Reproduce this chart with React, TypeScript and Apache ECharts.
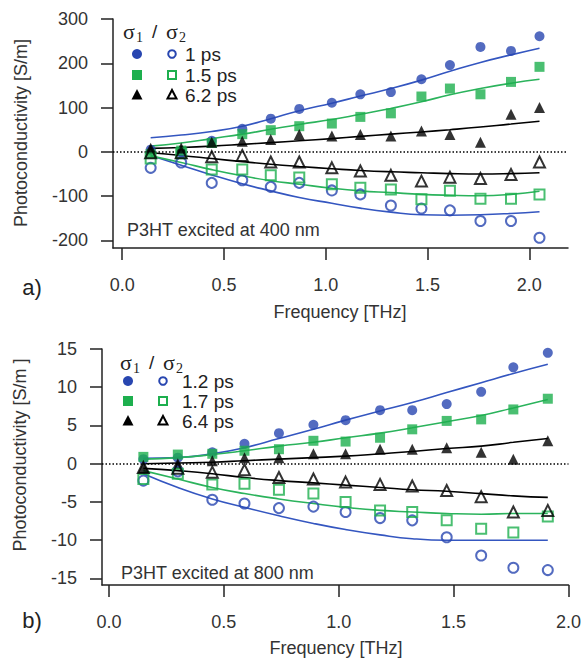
import React, { useEffect, useRef } from "react";
import * as echarts from "echarts";

// ---------- Panel a) 400 nm ----------
const freqA = [0.14, 0.29, 0.44, 0.59, 0.73, 0.87, 1.03, 1.17, 1.32, 1.47, 1.61, 1.76, 1.91, 2.05];
const blueFillA = [5, -2, 25, 52, 75, 97, 111, 130, 135, 164, 196, 237, 228, 261];
const greenFillA = [-5, 3, 20, 40, 49, 58, 64, 79, 87, 125, 143, 130, 158, 192];
const blackFillA = [8, 9, 22, 24, 28, 39, 36, 39, 36, 47, 39, 22, 85, 100];
const blueOpenA = [-36, -24, -70, -64, -79, -70, -87, -96, -121, -128, -132, -156, -156, -194];
const greenOpenA = [-15, -3, -40, -40, -53, -58, -73, -81, -85, -107, -88, -106, -106, -96];
const blackOpenA = [-2, -2, -11, -8, -23, -23, -36, -43, -53, -66, -57, -60, -51, -23];
const blueFitUpA = [32, 38, 46, 58, 75, 93, 110, 126, 143, 162, 182, 202, 219, 234];
const greenFitUpA = [13, 20, 30, 40, 51, 62, 73, 85, 98, 113, 129, 143, 155, 164];
const blackFitUpA = [8, 10, 13, 17, 21, 25, 30, 35, 40, 45, 50, 56, 63, 69];
const blueFitDnA = [-8, -30, -52, -72, -88, -103, -116, -127, -136, -142, -143, -142, -139, -135];
const greenFitDnA = [-9, -24, -40, -54, -65, -73, -82, -88, -92, -96, -98, -99, -96, -89];
const blackFitDnA = [-2, -8, -15, -22, -28, -33, -38, -42, -45, -47, -49, -50, -49, -47];
const yTicksA = [-200, -100, 0, 100, 200, 300];
const xTicksA = [0, 0.5, 1.0, 1.5, 2.0];
const legendA = ["1 ps", "1.5 ps", "6.2 ps"];

// ---------- Panel b) 800 nm ----------
const freqB = [0.15, 0.30, 0.45, 0.59, 0.74, 0.89, 1.03, 1.18, 1.32, 1.47, 1.62, 1.76, 1.91];
const blueFillB = [0.6, 0.8, 1.5, 2.6, 4.0, 5.1, 5.7, 7.0, 7.0, 7.8, 9.4, 12.6, 14.5];
const greenFillB = [0.9, 1.2, 1.3, 1.7, 1.9, 3.0, 2.9, 3.4, 4.5, 5.6, 5.8, 7.1, 8.5];
const blackFillB = [-0.5, 0.0, 0.4, 0.8, 0.8, 1.3, 1.3, 1.9, 1.9, 2.1, 1.5, 0.6, 3.0];
const blueOpenB = [-2.2, -1.0, -4.7, -5.2, -5.8, -5.6, -6.3, -7.1, -7.4, -9.6, -12.0, -13.6, -13.9];
const greenOpenB = [-2.0, -1.3, -2.7, -2.6, -3.4, -3.9, -5.0, -6.1, -6.3, -7.4, -8.5, -9.0, -6.9];
const blackOpenB = [-0.5, -0.6, -1.1, -0.8, -1.8, -2.0, -2.4, -2.7, -2.9, -3.5, -4.3, -6.3, -6.1];
const blueFitUpB = [0.7, 0.8, 1.3, 2.1, 3.3, 4.5, 5.7, 6.9, 8.0, 9.3, 10.6, 11.8, 13.0];
const greenFitUpB = [0.6, 0.8, 1.2, 1.7, 2.3, 2.8, 3.4, 4.0, 4.7, 5.5, 6.3, 7.3, 8.4];
const blackFitUpB = [0.0, 0.1, 0.2, 0.4, 0.6, 0.8, 1.0, 1.3, 1.6, 2.0, 2.3, 2.8, 3.3];
const blueFitDnB = [-1.3, -3.1, -4.6, -5.7, -6.8, -7.8, -8.6, -9.3, -9.8, -10.0, -10.0, -10.0, -10.0];
const greenFitDnB = [-0.9, -2.0, -3.1, -3.9, -4.6, -5.2, -5.7, -6.1, -6.3, -6.5, -6.6, -6.5, -6.5];
const blackFitDnB = [-0.6, -0.9, -1.3, -1.8, -2.2, -2.5, -2.8, -3.1, -3.4, -3.6, -3.9, -4.2, -4.4];
const yTicksB = [-15, -10, -5, 0, 5, 10, 15];
const xTicksB = [0, 0.5, 1.0, 1.5, 2.0];
const legendB = ["1.2 ps", "1.7 ps", "6.4 ps"];

const BLUE = "#2846b0";
const BLUE_LINE = "#3456c0";
const GREEN = "#1daf4e";
const GREEN_LINE = "#2bb35c";
const BLACK = "#000000";
const AXIS = "#222222";
const SANS = "Liberation Sans, Arial, Helvetica, sans-serif";
const SERIF = "Liberation Serif, Times New Roman, serif";

const zip = (xs: number[], ys: number[]) => xs.map((x, i) => [x, ys[i]]);

function scatter(idx: number, xs: number[], ys: number[], kind: string, color: string, open: boolean) {
  const symbol = kind === "c" ? "circle" : kind === "s" ? "rect" : "triangle";
  const size = kind === "t" ? 11 : 10;
  return {
    type: "scatter",
    xAxisIndex: idx,
    yAxisIndex: idx,
    data: zip(xs, ys),
    symbol,
    symbolSize: size,
    z: 5,
    itemStyle: open
      ? { color: "rgba(255,255,255,0)", borderColor: color, borderWidth: 2 }
      : { color },
  };
}

function fit(idx: number, xs: number[], ys: number[], color: string, zero = false) {
  const s: any = {
    type: "line",
    xAxisIndex: idx,
    yAxisIndex: idx,
    data: zip(xs, ys),
    showSymbol: false,
    smooth: true,
    z: 4,
    lineStyle: { color, width: 1.6 },
  };
  if (zero) {
    s.markLine = {
      silent: true,
      symbol: ["none", "none"],
      label: { show: false },
      lineStyle: { color: BLACK, type: [1.5, 2], width: 1.5 },
      data: [{ yAxis: 0 }],
    };
  }
  return s;
}

function legendGraphics(x1: number, x2: number, tx: number, ys: number[], labels: string[]) {
  const g: any[] = [];
  const colors = [BLUE, GREEN, BLACK];
  ys.forEach((y, i) => {
    const c = colors[i];
    if (i === 0) {
      g.push({ type: "circle", shape: { cx: x1, cy: y, r: 5 }, style: { fill: c } });
      g.push({ type: "circle", shape: { cx: x2, cy: y, r: 3.8 }, style: { fill: "none", stroke: c, lineWidth: 2 } });
    } else if (i === 1) {
      g.push({ type: "rect", shape: { x: x1 - 5, y: y - 5, width: 10, height: 10 }, style: { fill: c } });
      g.push({ type: "rect", shape: { x: x2 - 4, y: y - 4, width: 8, height: 8 }, style: { fill: "none", stroke: c, lineWidth: 2 } });
    } else {
      g.push({ type: "polygon", shape: { points: [[x1, y - 6], [x1 + 5.5, y + 4.5], [x1 - 5.5, y + 4.5]] }, style: { fill: c } });
      g.push({ type: "polygon", shape: { points: [[x2, y - 5], [x2 + 4.5, y + 3.5], [x2 - 4.5, y + 3.5]] }, style: { fill: "none", stroke: c, lineWidth: 2 } });
    }
    g.push({
      type: "text",
      x: tx,
      y,
      style: { text: labels[i], fontSize: 19, fontFamily: SANS, fill: "#222", align: "left", verticalAlign: "middle" },
    });
  });
  return g;
}

function sigmaGraphics(x: number, y: number) {
  const big = { fontSize: 22, fontFamily: SERIF, fill: "#222", align: "left", verticalAlign: "middle" };
  const sub = { fontSize: 14, fontFamily: SERIF, fill: "#222", align: "left", verticalAlign: "middle" };
  return [
    { type: "text", x, y, style: { ...big, text: "σ" } },
    { type: "text", x: x + 13, y: y + 6, style: { ...sub, text: "1" } },
    { type: "text", x: x + 29, y, style: { ...big, fontFamily: SANS, fontSize: 19, text: "/" } },
    { type: "text", x: x + 43, y, style: { ...big, text: "σ" } },
    { type: "text", x: x + 56, y: y + 6, style: { ...sub, text: "2" } },
  ];
}

function xAxisCfg(idx: number, min: number, max: number, ticks: number[]) {
  return {
    type: "value",
    gridIndex: idx,
    min,
    max,
    splitLine: { show: false },
    axisLine: { onZero: false, lineStyle: { color: AXIS, width: 1.5 } },
    axisTick: { length: 12, lineStyle: { color: AXIS, width: 1.5 }, customValues: ticks },
    axisLabel: {
      customValues: ticks,
      margin: 28,
      fontSize: 18,
      fontFamily: SANS,
      color: "#333",
      formatter: (v: number) => v.toFixed(1),
    },
  };
}

function yAxisCfg(idx: number, min: number, max: number, ticks: number[]) {
  return {
    type: "value",
    gridIndex: idx,
    min,
    max,
    splitLine: { show: false },
    axisLine: { onZero: false, lineStyle: { color: AXIS, width: 1.5 } },
    axisTick: { length: 12, lineStyle: { color: AXIS, width: 1.5 }, customValues: ticks },
    axisLabel: {
      customValues: ticks,
      margin: 25,
      fontSize: 18,
      fontFamily: SANS,
      color: "#333",
      formatter: (v: number) => String(v),
    },
  };
}

export default function App() {
  const ref = useRef<HTMLDivElement>(null);
  useEffect(() => {
    if (!ref.current) return;
    const chart = echarts.init(ref.current, undefined, { renderer: "svg" });
    const series: any[] = [
      fit(0, freqA, blueFitUpA, BLUE_LINE, true),
      fit(0, freqA, greenFitUpA, GREEN_LINE),
      fit(0, freqA, blackFitUpA, BLACK),
      fit(0, freqA, blueFitDnA, BLUE_LINE),
      fit(0, freqA, greenFitDnA, GREEN_LINE),
      fit(0, freqA, blackFitDnA, BLACK),
      scatter(0, freqA, blueFillA, "c", BLUE, false),
      scatter(0, freqA, greenFillA, "s", GREEN, false),
      scatter(0, freqA, blackFillA, "t", BLACK, false),
      scatter(0, freqA, blueOpenA, "c", BLUE, true),
      scatter(0, freqA, greenOpenA, "s", GREEN, true),
      scatter(0, freqA, blackOpenA, "t", BLACK, true),
      fit(1, freqB, blueFitUpB, BLUE_LINE, true),
      fit(1, freqB, greenFitUpB, GREEN_LINE),
      fit(1, freqB, blackFitUpB, BLACK),
      fit(1, freqB, blueFitDnB, BLUE_LINE),
      fit(1, freqB, greenFitDnB, GREEN_LINE),
      fit(1, freqB, blackFitDnB, BLACK),
      scatter(1, freqB, blueFillB, "c", BLUE, false),
      scatter(1, freqB, greenFillB, "s", GREEN, false),
      scatter(1, freqB, blackFillB, "t", BLACK, false),
      scatter(1, freqB, blueOpenB, "c", BLUE, true),
      scatter(1, freqB, greenOpenB, "s", GREEN, true),
      scatter(1, freqB, blackOpenB, "t", BLACK, true),
    ];
    const titleStyle = { fontSize: 18, fontFamily: SANS, fill: "#333", align: "center", verticalAlign: "middle" };
    const graphic: any[] = [
      ...sigmaGraphics(123, 31),
      ...legendGraphics(137, 172, 185, [54, 75, 95], legendA),
      ...sigmaGraphics(120, 362),
      ...legendGraphics(128, 163, 182, [381, 401, 421], legendB),
      { type: "text", x: 127, y: 230, style: { ...titleStyle, align: "left", text: "P3HT excited at 400 nm" } },
      { type: "text", x: 121, y: 573, style: { ...titleStyle, align: "left", text: "P3HT excited at 800 nm" } },
      { type: "text", x: 340, y: 312, style: { ...titleStyle, text: "Frequency [THz]" } },
      { type: "text", x: 336, y: 648, style: { ...titleStyle, text: "Frequency [THz]" } },
      { type: "text", x: 21, y: 133, rotation: Math.PI / 2, style: { ...titleStyle, text: "Photoconductivity [S/m]" } },
      { type: "text", x: 20, y: 455, rotation: Math.PI / 2, style: { ...titleStyle, text: "Photoconductivity [S/m ]" } },
      { type: "text", x: 32, y: 287, style: { ...titleStyle, fontSize: 22, fill: "#222", text: "a)" } },
      { type: "text", x: 32, y: 620, style: { ...titleStyle, fontSize: 22, fill: "#222", text: "b)" } },
    ];
    chart.setOption({
      animation: false,
      backgroundColor: "#ffffff",
      grid: [
        { left: 113, top: 19, width: 455, height: 229 },
        { left: 102, top: 349, width: 467, height: 236 },
      ],
      xAxis: [xAxisCfg(0, -0.045, 2.19, xTicksA), xAxisCfg(1, -0.03, 2.0, xTicksB)],
      yAxis: [yAxisCfg(0, -217, 300, yTicksA), yAxisCfg(1, -15.85, 15, yTicksB)],
      series,
      graphic,
    });
    return () => chart.dispose();
  }, []);
  return (
    <div
      ref={ref}
      style={{ position: "fixed", left: 0, top: 0, width: 584, height: 659, background: "#fff" }}
    />
  );
}
